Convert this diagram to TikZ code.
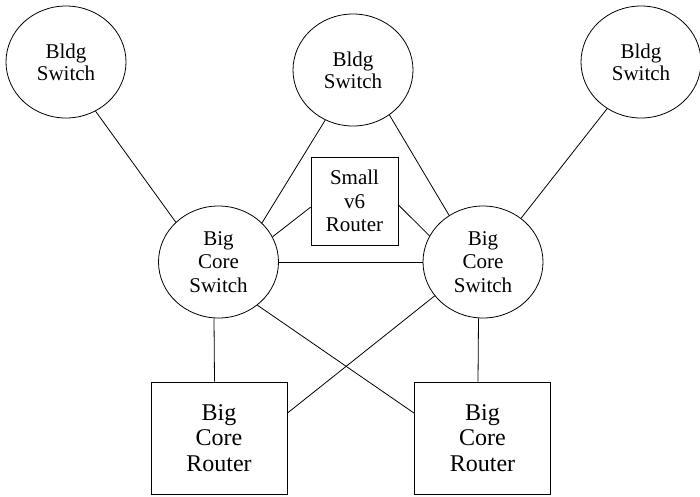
\documentclass[tikz,border=0pt]{standalone}
\usepackage{fontspec}
\setmainfont{Liberation Serif}
\usetikzlibrary{shapes.geometric}
\begin{document}
\begin{tikzpicture}[x=1pt,y=-1pt,
  link/.style={line width=0.8pt},
  switchnode/.style={draw, ellipse, line width=0.8pt, inner sep=0pt,
    minimum width=120pt, minimum height=112pt, align=center},
  bldg/.style={switchnode, font=\fontsize{21}{22}\selectfont},
  core/.style={switchnode, font=\fontsize{21}{23.5}\selectfont},
  smallrouter/.style={draw, rectangle, line width=0.8pt, inner sep=0pt,
    minimum width=87pt, minimum height=88pt, align=center,
    font=\fontsize{21}{23.5}\selectfont},
  bigrouter/.style={draw, rectangle, line width=0.8pt, inner sep=0pt,
    minimum width=136pt, minimum height=112pt, align=center,
    font=\fontsize{24}{25.5}\selectfont}]
  \fill[white] (0,0) rectangle (700,496);
  \useasboundingbox (0,0) rectangle (700,496);

  % building switches
  \node[bldg] (tl) at (66,62)  {Bldg\\Switch};
  \node[bldg] (bm) at (353,70) {Bldg\\Switch};
  \node[bldg] (tr) at (641,62) {Bldg\\Switch};

  % core switches
  \node[core] (cl) at (218.5,262) {Big\\Core\\Switch};
  \node[core] (cr) at (483,262)   {Big\\Core\\Switch};

  % routers
  \node[smallrouter] (sr) at (354.5,201) {Small\\v6\\Router};
  \node[bigrouter] (rl) at (219,438)   {Big\\Core\\Router};
  \node[bigrouter] (rr) at (482.5,438) {Big\\Core\\Router};

  % links
  \draw[link] (tl.-59) -- (cl.137);
  \draw[link] (bm.241) -- (cl.42);
  \draw[link] (bm.-51) -- (cr.126);
  \draw[link] (tr.234) -- (cr.49);
  \draw[link] (sr.188) -- (cl.25);
  \draw[link] (sr.-5) -- (cr.154);
  \draw[link] (cl.east) -- (cr.west);
  \draw[link] ([xshift=-4.5pt]cl.south) -- ([xshift=-4.5pt]rl.north);
  \draw[link] ([xshift=-4.5pt]cr.south) -- ([xshift=-4.5pt]rr.north);
  \draw[link] (cl.-48) -- (rr.160);
  \draw[link] (cr.215) -- (rl.20);
\end{tikzpicture}
\end{document}
